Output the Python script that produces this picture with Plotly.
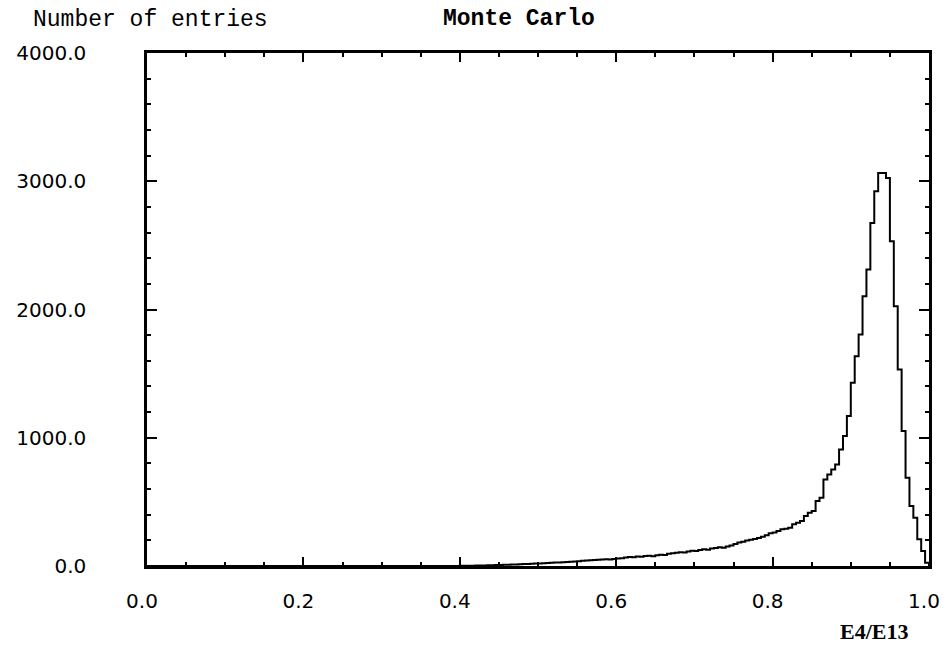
import plotly.graph_objects as go

# Histogram of E4/E13 (Monte Carlo), bins of width 0.005 starting at 0.40
bin_start = 0.40
bin_width = 0.005
counts = [
    # 0.400 - 0.495
    1, 2, 1, 2, 3, 3, 4, 5, 6, 7, 8, 9, 10, 11, 12, 13, 15, 16, 18, 19,
    # 0.500 - 0.595
    20, 22, 23, 25, 27, 28, 30, 32, 33, 35, 38, 40, 43, 44, 46, 48, 50, 52, 50, 55,
    # 0.600 - 0.695
    58, 60, 66, 70, 68, 74, 72, 78, 80, 76, 84, 88, 86, 95, 100, 104, 108, 106, 114, 118,
    # 0.700 - 0.795
    116, 124, 130, 127, 136, 140, 146, 143, 152, 160, 172, 183, 190, 198, 205, 210, 218, 228, 240, 255,
    # 0.800 - 0.895
    262, 273, 286, 291, 299, 325, 338, 351, 390, 416, 429, 506, 532, 675, 714, 753, 792, 909, 1013, 1169,
    # 0.900 - 0.995
    1428, 1636, 1805, 2104, 2311, 2675, 2922, 3065, 3065, 3026, 2532, 2026, 1532, 1052, 688, 468, 377, 208, 117, 26,
]

x_ticks = [0.0, 0.2, 0.4, 0.6, 0.8, 1.0]
x_tick_labels = ["0.0", "0.2", "0.4", "0.6", "0.8", "1.0"]
y_ticks = [0, 1000, 2000, 3000, 4000]
y_tick_labels = ["0.0", "1000.0", "2000.0", "3000.0", "4000.0"]

# step outline built from the bins
edges = [bin_start + i * bin_width for i in range(len(counts) + 1)]
xs = [0.0] + edges
ys = [0] + counts + [0]

fig = go.Figure()
fig.add_trace(go.Scatter(
    x=xs, y=ys, mode="lines", line=dict(color="black", width=2, shape="hv"),
    hoverinfo="skip", showlegend=False,
))

L, R, T, B = 147, 15, 53, 82
W, H = 952, 648
pw, ph = W - L - R, H - T - B

def px_x(p):
    return (p - L) / pw

def px_y(p):
    return (H - B - p) / ph

tickfont = dict(family="DejaVu Sans", size=20, color="black")

fig.update_layout(
    width=W, height=H,
    margin=dict(l=L, r=R, t=T, b=B, pad=0),
    paper_bgcolor="white", plot_bgcolor="white",
    showlegend=False,
    xaxis=dict(
        range=[0, 1], tickvals=x_ticks, ticktext=x_tick_labels,
        showgrid=False, zeroline=False,
        showline=True, linecolor="black", linewidth=2.5, mirror="allticks",
        ticks="inside", ticklen=9, tickwidth=2, tickcolor="black",
        minor=dict(dtick=0.05, tick0=0, ticks="inside", ticklen=4, tickwidth=1.5, tickcolor="black", showgrid=False),
        tickfont=tickfont, ticklabelstandoff=15, ticklabelshift=-5,
    ),
    yaxis=dict(
        range=[0, 4000], tickvals=y_ticks, ticktext=y_tick_labels,
        showgrid=False, zeroline=False,
        showline=True, linecolor="black", linewidth=2.5, mirror="allticks",
        ticks="inside", ticklen=10, tickwidth=2, tickcolor="black",
        minor=dict(dtick=200, tick0=0, ticks="inside", ticklen=4.5, tickwidth=1.5, tickcolor="black", showgrid=False),
        tickfont=tickfont, ticklabelstandoff=54,
    ),
    annotations=[
        dict(text="Number of entries", xref="paper", yref="paper",
             x=px_x(30), y=px_y(20), xanchor="left", yanchor="middle", showarrow=False,
             font=dict(family="Liberation Mono", size=23, color="black")),
        dict(text="<b>Monte Carlo</b>", xref="paper", yref="paper",
             x=px_x(444), y=px_y(19), xanchor="left", yanchor="middle", showarrow=False,
             font=dict(family="Liberation Mono", size=23, color="black")),
        dict(text="<b>E4/E13</b>", xref="paper", yref="paper",
             x=px_x(918), y=px_y(631), xanchor="right", yanchor="middle", showarrow=False,
             font=dict(family="Liberation Serif", size=22, color="black")),
    ],
)

fig.write_html("out.html")
